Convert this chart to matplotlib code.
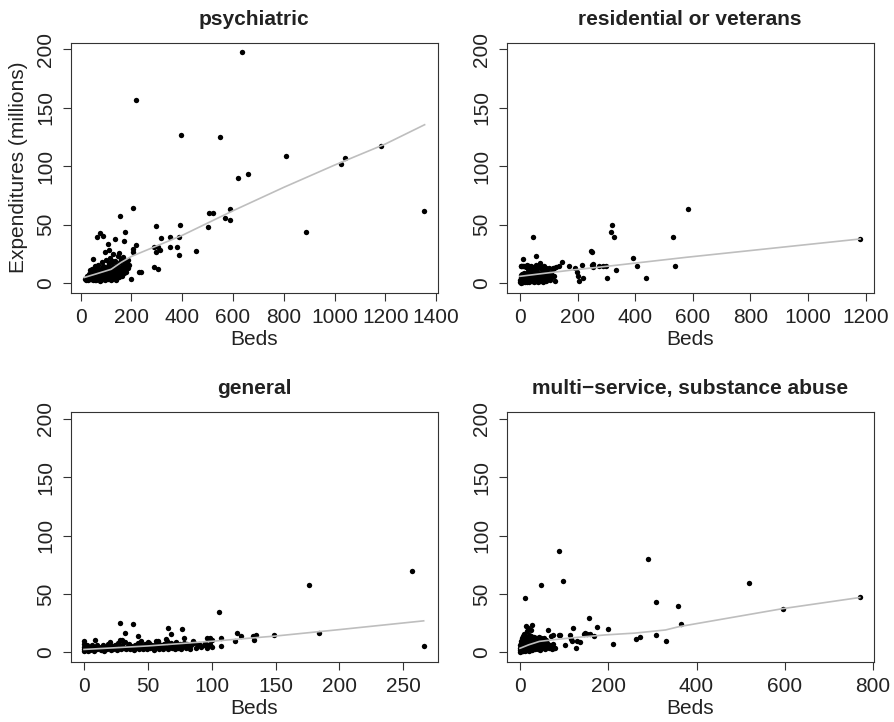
import matplotlib
matplotlib.use("Agg")
import matplotlib.pyplot as plt
import numpy as np

plt.rcParams['font.family'] = ['Liberation Sans', 'DejaVu Sans']

titles = ["psychiatric", "residential or veterans", "general", "multi\u2212service, substance abuse"]
y_label = "Expenditures (millions)"
x_label = "Beds"
y_ticks = [0, 50, 100, 150, 200]
x_ticks_list = [
    [0, 200, 400, 600, 800, 1000, 1200, 1400],
    [0, 200, 400, 600, 800, 1000, 1200],
    [0, 50, 100, 150, 200, 250],
    [0, 200, 400, 600, 800],
]

# ---- psychiatric ----
psych_pts = [
    (636,197.4),(219,156.7),(394,127),(549,125.4),(808,108.8),(1182,117.4),(1026,102.3),(1043,107.1),
    (620,90.3),(659,93.2),(1353,61.5),(889,43.9),(507,60),(520,60),(589,63.2),(568,55.5),(589,54.4),
    (500,47.9),(455,27.3),(393,50),(381,30.8),(351,39.3),(389,39.3),(353,31.3),(387,23.9),(317,39),
    (297,49.4),(288,31.2),(305,31),(312,28.5),(297,27),(289,14.2),(306,12.5),(228,9.9),(236,9.9),
    (198,3.9),(206,64.1),(155,57.5),(63,39.6),(77,43),(89,40.2),(173,43.6),(134,38.1),(171,36.2),
    (106,33.3),(95,26.8),(111,28.2),(50,21),(218,32.5),(206,29.3),(206,26.8),(152,25.6),
    (168,22.8),(188,20),(181,17),(175,17.5),
    (18,4),(22,3),(25,6),(28,2.5),(30,5),(33,8),(35,3.5),(38,6),(40,4),(42,9),(45,5),(47,3),(50,7),
    (52,11),(55,4.5),(57,6),(60,9),(62,3),(64,13),(66,5),(68,8),(70,16),(72,4),(74,10),(76,6),(78,12),
    (80,3),(82,18),(84,7),(86,9),(88,5),(90,14),(92,11),(94,4),(96,8),(98,20),(100,6),(102,12),(104,9),
    (106,3.5),(108,15),(110,7),(112,10),(114,22),(116,5),(118,13),(120,8),(122,17),(124,4),(126,11),
    (128,25),(130,6),(132,14),(134,9),(136,19),(138,3),(140,12),(142,7),(144,16),(146,23),(148,10),
    (150,5),(152,13),(154,18),(156,8),(158,21),(160,11),(162,15),(164,6),(168,12),(170,19),
    (172,9),(176,14),(180,10),(185,13),(192,16),(120,2.5),(140,4),(58,15),(45,12),
    (35,11),(75,2),(95,2.5),(48,9),(56,8),(66,11),(72,7),(84,12),(88,15),(100,9),(110,17),(118,5),
    (124,19),(58,3),(68,4),(90,7),(104,5),(130,10),
]
psych_x = [p[0] for p in psych_pts]
psych_y = [p[1] for p in psych_pts]
psych_fit_x = [14, 60, 120, 160, 200, 300, 400, 600, 800, 1000, 1200, 1355]
psych_fit_y = [5, 8, 12, 18, 23, 32, 41, 62, 82, 101, 119, 135.5]

# ---- residential or veterans ----
resid_pts = [
    (1181,37.9),(584,63.8),(530,39.2),(538,14.5),(321,49.9),(317,44.1),(326,39.6),(392,21.9),(407,14.5),
    (439,4.3),(335,11.6),(301,4.3),(250,15.7),(252,14.2),(247,27.6),(250,26.5),(254,16.8),(273,14.5),
    (287,14.5),(298,14.5),(217,15.7),(220,4.3),(198,9.9),(201,6.5),(204,2),(171,14.5),(190,13.4),
    (146,18.5),(136,15.1),(125,14),(113,13.4),(99.5,12.8),(76,13.4),(58,14),(44,13.4),(32,15.1),
    (46,39.6),(54,23.3),(11.6,20.8),(2,14.5),(11,14.5),(122,2),(119,12.8),
    (0,1),(1,3),(2,5),(3,7),(4,0.5),(5,2),(6,4),(7,6),(8,8),(9,1.5),(10,3),(11,5),(12,0.8),(13,7),
    (14,2.5),(15,9),(16,4),(18,1),(20,6),(21,3),(22,8),(24,1.5),(25,5),(27,10),(28,2),(30,7),(32,4),
    (33,1),(35,9),(36,6),(38,3),(40,11),(42,2),(44,7),(45,5),(47,1.2),(48,9),(50,3),(52,6),(54,12),
    (55,2),(57,8),(58,4),(60,10),(62,1.5),(64,6),(65,3),(67,8),(68,13),(70,2),(72,5),(74,9),(76,3),
    (78,7),(80,1.5),(82,11),(84,5),(86,3),(88,8),(90,2),(92,6),(95,10),(98,4),(100,7),(104,3),(108,9),
    (110,5),(115,12),(118,6),(5,14.5),(8,14.5),(14,15),(20,14),(25,16),(30,13),(35,12),(40,15),(48,14),
    (55,16),(62,15),(70,17),(75,14),(80,12),(85,15),(90,13),(28,12),
]
resid_x = [p[0] for p in resid_pts]
resid_y = [p[1] for p in resid_pts]
resid_fit_x = [0, 100, 183, 300, 576, 1181]
resid_fit_y = [6, 9, 11.4, 14.5, 22.2, 37.9]

# ---- general ----
gen_pts = [
    (0,1.5),(0,3),(0,5),(0,7),(1,2),(1,4),(2,6),(2,3),(3,1.5),(3,5),(4,3),(5,4.5),(5,2),(6,6),(7,3),
    (8,1.5),(8,5),(9,4),(10,2.5),(10,6),(11,3.5),(12,5),(13,2),(14,4),(15,6.5),(15,3),(16,1.5),(17,5),
    (18,3),(19,7),(20,4),(21,2),(22,5.5),(23,3),(24,6),(25,4),(26,2),(27,8),(28,5),(29,3),(30,6),(31,4),
    (32,9),(33,2.5),(34,5),(35,7),(36,3),(37,5.5),(38,4),(39,2),(40,6),(41,4),(42,8),(43,3),(44,5),
    (45,6.5),(46,2.5),(47,4),(48,7),(49,3),(50,5),(51,8),(52,3.5),(53,6),(54,4),(55,2),(56,7),(57,5),
    (58,9),(59,3),(60,6),(61,4),(62,2.5),(63,7),(64,5),(65,10),(66,3),(67,6),(68,8),(69,4),(70,5.5),
    (71,3),(72,9),(73,6),(74,4),(75,7),(76,3),(77,5),(78,8),(79,6),(80,4),(81,7),(82,5),(83,3),(84,6),
    (86,8),(88,4),(89,6),(90,7),(92,5),(94,6),(95,8),(96,4),(97,6),(99,7),(100,5),
    (28,24.8),(38,23.9),(32,17),(42,13.7),(9,10.8),(66,20.8),(77,20.2),(68,15.6),(64,11.4),(78,12),
    (28,11),(30,10.5),(0,9.4),(56,9.7),(58,10),(96,12),(99,12),(107,12),(107,5.1),(106,35),(176,58),
    (257,69.4),(266,5.1),(184,16.8),(149,14.8),(135,14.8),(132,13.7),(133,10.2),(120,16.2),(123,13.7),
    (118,10),(100,10.8),(20,9),(45,10),(50,9),(85,10),
]
gen_x = [p[0] for p in gen_pts]
gen_y = [p[1] for p in gen_pts]
gen_fit_x = [0, 50, 100, 150, 200, 266]
gen_fit_y = [2.5, 5.5, 9.5, 14, 19.5, 27]

# ---- multi-service, substance abuse ----
multi_pts = [
    (770,47.5),(596,37.3),(519,59.7),(291,79.9),(309,43),(359,39.3),(365,23.9),(308,14.8),(332,10),
    (262,11.7),(273,12.8),(211,7.4),(200,19.9),(174,21.6),(157,29.3),(168,14.2),(158,15.9),(148,16.5),
    (135,9.1),(126,3.7),(121,20.8),(113,15),(115,11.4),(101,6.5),(91,14.8),(88,86.8),(97,60.9),
    (48,57.5),(12,46.9),(63,19.3),(75,14.5),(89,14.5),(77,3.4),(13,22.2),(17.4,20.8),(27,23.6),(25,19.3),
    (145,15.9),(151,15.9),(117,9.4),(130,9.4),
    (0,0.5),(0,2),(1,4),(1,6),(2,1),(2,8),(3,3),(3,10),(4,5),(4,12),(5,1.5),(5,7),(6,3.5),(6,14),(7,9),
    (7,0.8),(8,5),(8,11),(9,2.5),(9,7),(10,16),(10,4),(11,9),(12,1.5),(12,6),(13,12),(14,3),(14,8),
    (15,10),(16,5),(16,18),(17,2),(17,13),(18,7),(19,4),(19,11),(20,9),(21,1.5),(21,15),(22,6),(23,3),
    (23,12),(24,8),(25,10),(26,5),(26,14),(27,2),(28,7),(29,11),(30,4),(30,9),(31,13),(32,6),(33,2.5),
    (34,10),(35,8),(36,4),(37,12),(38,6),(39,9),(40,3),(40,11),(42,7),(43,13),(44,5),(45,10),(46,2),
    (47,8),(48,12),(50,6),(51,4),(52,10),(54,7),(55,12),(56,3),(58,9),(60,5),(60,11),(62,8),(65,4),
    (68,6),(70,14),(72,3),(75,7),(80,4),
]
multi_x = [p[0] for p in multi_pts]
multi_y = [p[1] for p in multi_pts]
multi_fit_x = [0, 20, 44, 80, 119, 195, 260, 330, 360, 596, 770]
multi_fit_y = [3.5, 6.5, 9.4, 11, 12.5, 15, 16.5, 19.2, 22, 37.5, 47]

panels = [
    (psych_x, psych_y, psych_fit_x, psych_fit_y),
    (resid_x, resid_y, resid_fit_x, resid_fit_y),
    (gen_x, gen_y, gen_fit_x, gen_fit_y),
    (multi_x, multi_y, multi_fit_x, multi_fit_y),
]

positions = [
    [0.0791, 0.5946, 0.4105, 0.3463],
    [0.5668, 0.5946, 0.4105, 0.3463],
    [0.0791, 0.0835, 0.4105, 0.3454],
    [0.5668, 0.0835, 0.4105, 0.3454],
]
xlims = [(-39.4, 1406.6), (-46, 1228), (-10.4, 277), (-30, 801.5)]
ylim = (-8, 205.6)

FS = 15
fig = plt.figure(figsize=(8.94, 7.22), dpi=100)
for i, (xs, ys, fx, fy) in enumerate(panels):
    ax = fig.add_axes(positions[i])
    ax.scatter(xs, ys, s=15, color='black', linewidths=0, zorder=2)
    ax.plot(fx, fy, color='#BEBEBE', lw=1.2, zorder=3)
    ax.set_xlim(*xlims[i])
    ax.set_ylim(*ylim)
    ax.set_xticks(x_ticks_list[i])
    ax.set_xticklabels([str(t) for t in x_ticks_list[i]], fontsize=FS, color='#222222')
    ax.set_yticks(y_ticks)
    ax.set_yticklabels([str(t) for t in y_ticks], fontsize=FS, rotation=90, va='center', color='#222222')
    ax.tick_params(direction='out', length=6, width=0.8, pad=5, color='#333333')
    for sp in ax.spines.values():
        sp.set_linewidth(0.8)
        sp.set_color('#333333')
    ax.set_title(titles[i], fontsize=FS, fontweight='bold', pad=13, color='#222222')
    ax.set_xlabel(x_label, fontsize=FS, labelpad=2, color='#222222')
    if i == 0:
        ax.set_ylabel(y_label, fontsize=FS, labelpad=6, color='#222222')

fig.savefig('out.png', dpi=100)
